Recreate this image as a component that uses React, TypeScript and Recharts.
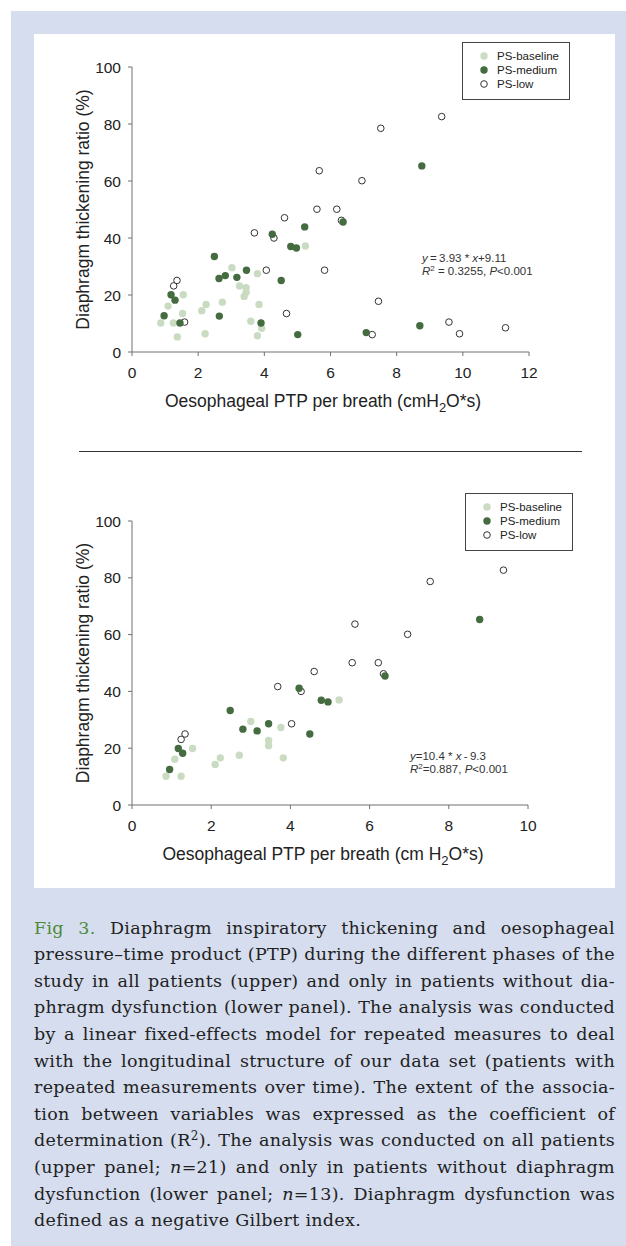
import React from "react";
import { Legend, Scatter, ScatterChart, XAxis, YAxis } from "recharts";

// values: [PTP, thickening ratio]
const upperBaseline = [
  [0.87, 10.2], [1.09, 16.1], [1.25, 10.2], [1.37, 5.3], [1.53, 13.5], [1.55, 20.1], [2.11, 14.5],
  [2.21, 6.4], [2.24, 16.7], [2.73, 17.5], [3.02, 29.6], [3.25, 23.2], [3.39, 19.5], [3.45, 21.0],
  [3.45, 22.6], [3.59, 10.8], [3.79, 27.5], [3.79, 5.7], [3.84, 16.7], [3.92, 8.3], [5.24, 37.2],
];
const upperMedium = [
  [0.97, 12.7], [1.18, 20.1], [1.3, 18.2], [1.45, 10.2], [2.49, 33.5], [2.63, 25.8], [2.64, 12.6],
  [2.82, 26.8], [3.17, 26.2], [3.46, 28.7], [3.9, 10.2], [4.24, 41.3], [4.51, 25.1], [4.8, 37.0],
  [4.97, 36.5], [5.01, 6.1], [5.22, 43.9], [6.38, 45.6], [7.08, 6.8], [8.7, 9.2], [8.76, 65.3],
];
const upperLow = [
  [1.26, 23.2], [1.36, 25.1], [1.59, 10.5], [3.7, 41.8], [4.06, 28.7], [4.29, 40.0], [4.61, 47.1],
  [4.67, 13.5], [5.59, 50.1], [5.66, 63.6], [5.82, 28.7], [6.19, 50.1], [6.33, 46.2], [6.95, 60.1],
  [7.26, 6.1], [7.45, 17.8], [7.52, 78.5], [9.36, 82.6], [9.58, 10.5], [9.9, 6.4], [11.29, 8.5],
];

const lowerBaseline = [
  [0.86, 10.1], [1.08, 16.1], [1.24, 10.1], [1.53, 19.9], [2.1, 14.3], [2.23, 16.6], [2.71, 17.5],
  [3.0, 29.4], [3.45, 22.7], [3.45, 20.9], [3.76, 27.3], [3.82, 16.6], [5.23, 37.0],
];
const lowerMedium = [
  [0.95, 12.5], [1.17, 19.9], [1.28, 18.2], [2.48, 33.3], [2.8, 26.7], [3.16, 26.1], [3.45, 28.6],
  [4.22, 41.1], [4.49, 25.0], [4.78, 36.9], [4.95, 36.3], [6.39, 45.4], [8.78, 65.3],
];
const lowerLow = [
  [1.24, 23.1], [1.34, 25.0], [3.68, 41.7], [4.03, 28.6], [4.27, 40.0], [4.6, 47.0], [5.56, 50.1],
  [5.63, 63.7], [6.22, 50.1], [6.35, 46.2], [6.96, 60.1], [7.53, 78.7], [9.38, 82.7],
];

const seriesNames = ["PS-baseline", "PS-medium", "PS-low"];
const yTicks = [0, 20, 40, 60, 80, 100];
const upperXTicks = [0, 2, 4, 6, 8, 10, 12];
const lowerXTicks = [0, 2, 4, 6, 8, 10];

const captionLines = [
  "Diaphragm inspiratory thickening and oesophageal",
  "pressure\u2013time product (PTP) during the different phases of the",
  "study in all patients (upper) and only in patients without dia-",
  "phragm dysfunction (lower panel). The analysis was conducted",
  "by a linear fixed-effects model for repeated measures to deal",
  "with the longitudinal structure of our data set (patients with",
  "repeated measurements over time). The extent of the associa-",
  "tion between variables was expressed as the coefficient of",
];

const lightGreen = "#c9dcc2";
const darkGreen = "#456b40";
const axisColor = "#707070";
const sans = "'Liberation Sans', Arial, sans-serif";

const toPts = (rows: number[][]) => rows.map(([x, y]) => ({ x, y }));

const BaselineDot = (p: any) => <circle cx={p.cx} cy={p.cy} r={3.7} fill={lightGreen} />;
const MediumDot = (p: any) => <circle cx={p.cx} cy={p.cy} r={3.7} fill={darkGreen} />;
const LowDot = (p: any) => <circle cx={p.cx} cy={p.cy} r={3.3} fill="#fff" stroke="#333" strokeWidth={1} />;

function LegendBox() {
  const marks = [
    <circle cx={6} cy={6} r={3.7} fill={lightGreen} />,
    <circle cx={6} cy={6} r={3.7} fill={darkGreen} />,
    <circle cx={6} cy={6} r={3.3} fill="#fff" stroke="#333" />,
  ];
  return (
    <div style={{ width: 106, height: 56, border: "1px solid #444", background: "#fff", position: "relative", fontFamily: sans, fontSize: 11.5, color: "#222" }}>
      {seriesNames.map((name, i) => (
        <div key={name} style={{ position: "absolute", left: 15, top: 6 + i * 14, height: 14, display: "flex", alignItems: "center" }}>
          <svg width={12} height={12} style={{ marginRight: 7 }}>{marks[i]}</svg>
          <span>{name}</span>
        </div>
      ))}
    </div>
  );
}

function Panel({
  top, height, marginTop, marginBottom, right, xMax, xTicks, baseline, medium, low, xUnit, legendLeft, legendTop,
}: {
  top: number; height: number; marginTop: number; marginBottom: number; right: number; xMax: number; xTicks: number[];
  baseline: number[][]; medium: number[][]; low: number[][]; xUnit: string; legendLeft: number; legendTop: number;
}) {
  const plotBottom = height - marginBottom - 30;
  return (
    <div style={{ position: "absolute", left: 0, top, fontFamily: sans }}>
      <ScatterChart width={626} height={height} margin={{ top: marginTop, right, left: 92, bottom: marginBottom }}>
        <XAxis
          type="number" dataKey="x" domain={[0, xMax]} ticks={xTicks} interval={0} height={30}
          tickSize={4} tickMargin={11} axisLine={{ stroke: axisColor }} tickLine={{ stroke: axisColor }}
          tick={{ fill: "#222", fontSize: 15.5 }}
          label={() => (
            <text x={323} y={plotBottom + 55} textAnchor="middle" fontSize={17.5} fill="#222">
              Oesophageal PTP per breath ({xUnit}
              <tspan fontSize={13} dy={5}>2</tspan>
              <tspan dy={-5}>O*s)</tspan>
            </text>
          )}
        />
        <YAxis
          type="number" dataKey="y" domain={[0, 100]} ticks={yTicks} interval={0} width={40}
          tickSize={4} tickMargin={7} axisLine={{ stroke: axisColor }} tickLine={{ stroke: axisColor }}
          tick={{ fill: "#222", fontSize: 15.5 }}
          label={() => {
            const cy = (marginTop + plotBottom) / 2;
            return (
              <text x={89} y={cy} transform={`rotate(-90, 89, ${cy})`} textAnchor="middle" fontSize={17.5} fill="#222">
                Diaphragm thickening ratio (%)
              </text>
            );
          }}
        />
        <Legend
          layout="vertical" align="center" verticalAlign="middle"
          content={() => <LegendBox />}
          wrapperStyle={{ left: legendLeft, top: legendTop, width: 108, height: 58 }}
        />
        <Scatter name={seriesNames[0]} data={toPts(baseline)} shape={BaselineDot} isAnimationActive={false} />
        <Scatter name={seriesNames[2]} data={toPts(low)} shape={LowDot} isAnimationActive={false} />
        <Scatter name={seriesNames[1]} data={toPts(medium)} shape={MediumDot} isAnimationActive={false} />
      </ScatterChart>
    </div>
  );
}

const eqStyle: React.CSSProperties = { position: "absolute", fontFamily: sans, fontSize: 11.5, lineHeight: "13px", color: "#333", whiteSpace: "nowrap" };
const lineStyle: React.CSSProperties = { textAlign: "justify", textAlignLast: "justify", whiteSpace: "nowrap", height: 26.6 };

export default function App() {
  return (
    <div style={{ position: "absolute", left: 0, top: 0, width: 626, height: 1246, background: "#fff", overflow: "hidden" }}>
      <div style={{ position: "absolute", left: 11, top: 11, width: 615, height: 1235, background: "#d5ddee" }} />
      <div style={{ position: "absolute", left: 34, top: 34, width: 581, height: 854, background: "#fff" }} />

      <Panel
        top={0} height={440} marginTop={67} marginBottom={58} right={97} xMax={12} xTicks={upperXTicks}
        baseline={upperBaseline} medium={upperMedium} low={upperLow} xUnit="cmH" legendLeft={462} legendTop={42}
      />
      <div style={{ ...eqStyle, left: 422, top: 251.5 }}>
        <i>y</i>{"\u2009=\u20093.93 * "}<i>x</i>+9.11
        <br />
        <i>R</i><sup style={{ fontSize: 8, verticalAlign: "4px", lineHeight: 0 }}>2</sup>{" = 0.3255, "}<i>P</i>{"<0.001"}
      </div>

      <div style={{ position: "absolute", left: 79, top: 451, width: 503, height: 1, background: "#333" }} />

      <Panel
        top={460} height={425} marginTop={61} marginBottom={50} right={98} xMax={10} xTicks={lowerXTicks}
        baseline={lowerBaseline} medium={lowerMedium} low={lowerLow} xUnit="cm H" legendLeft={465} legendTop={33}
      />
      <div style={{ ...eqStyle, left: 410, top: 749.5 }}>
        <i>y</i>=10.4 * <i>x</i>{"\u2009-\u20099.3"}
        <br />
        <i>R</i><sup style={{ fontSize: 8, verticalAlign: "4px", lineHeight: 0 }}>2</sup>=0.887, <i>P</i>{"<0.001"}
      </div>

      <div style={{ position: "absolute", left: 34, top: 914.7, width: 581, fontFamily: "'DejaVu Serif', serif", fontSize: 17.5, letterSpacing: 0.3, lineHeight: "26.6px", color: "#222" }}>
        <div style={lineStyle}>
          <span style={{ color: "#4f8a3a" }}>Fig 3.</span> {captionLines[0]}
        </div>
        {captionLines.slice(1).map((t) => (
          <div key={t} style={lineStyle}>{t}</div>
        ))}
        <div style={lineStyle}>
          determination (R<sup style={{ fontSize: 12, verticalAlign: "6px", lineHeight: 0 }}>2</sup>). The analysis was conducted on all patients
        </div>
        <div style={lineStyle}>
          (upper panel; <i>n</i>=21) and only in patients without diaphragm
        </div>
        <div style={lineStyle}>
          dysfunction (lower panel; <i>n</i>=13). Diaphragm dysfunction was
        </div>
        <div style={{ ...lineStyle, textAlignLast: "left" }}>defined as a negative Gilbert index.</div>
      </div>
    </div>
  );
}
